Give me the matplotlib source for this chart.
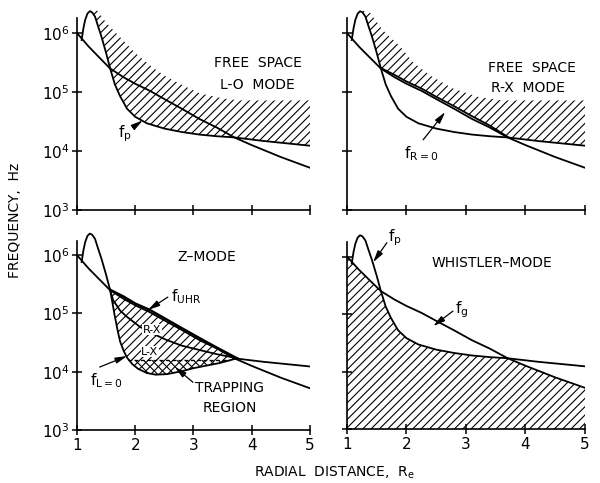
import numpy as np
import matplotlib
matplotlib.use('Agg')
import matplotlib.pyplot as plt
from matplotlib.ticker import NullLocator

plt.rcParams['hatch.linewidth'] = 0.8
plt.rcParams['mathtext.default'] = 'regular'
plt.rcParams['font.family'] = 'DejaVu Sans'

# radial distance (Re) and frequency (Hz)
R_g = [1.0, 1.2, 1.4, 1.57, 1.8, 2.0, 2.25, 2.5, 2.8, 3.1, 3.4, 3.7, 4.0, 4.5, 5.0]
f_g = [1.0e6, 5.9e5, 3.7e5, 2.5e5, 1.78e5, 1.38e5, 1.05e5, 7.6e4, 5.2e4, 3.5e4, 2.5e4, 1.7e4, 1.26e4, 7.9e3, 5.2e3]

R_p = [1.08, 1.11, 1.14, 1.18, 1.22, 1.26, 1.31, 1.36, 1.42, 1.50, 1.57, 1.65,
       1.74, 1.86, 2.0, 2.2, 2.5, 2.8, 3.1, 3.4, 3.7, 4.2, 4.6, 5.0]
f_p = [7.6e5, 1.2e6, 1.66e6, 2.14e6, 2.34e6, 2.24e6, 1.9e6, 1.32e6, 8.7e5, 4.6e5, 2.5e5, 1.35e5,
       8.5e4, 5.2e4, 3.8e4, 2.95e4, 2.4e4, 2.1e4, 1.9e4, 1.78e4, 1.7e4, 1.48e4, 1.35e4, 1.23e4]

# upper edge of the hatching in the free space panels
R_top_lo = [1.24, 1.34, 1.5, 1.74, 2.0, 2.3, 2.54, 2.89, 3.11, 3.5, 3.8, 5.0]
f_top_lo = [2.5e6, 2.45e6, 1.5e6, 8.5e5, 4.6e5, 2.6e5, 1.8e5, 1.2e5, 9.5e4, 7.8e4, 7.2e4, 7.2e4]
R_top_rx = [1.26, 1.39, 1.6, 1.89, 2.11, 2.4, 2.78, 3.2, 3.6, 5.0]
f_top_rx = [2.4e6, 2.2e6, 1.12e6, 6.0e5, 3.2e5, 1.9e5, 1.15e5, 8.3e4, 7.2e4, 7.2e4]

R_R0 = [1.57, 1.8, 2.0, 2.25, 2.5, 2.8, 3.1, 3.4, 3.7]
f_R0 = [2.55e5, 1.95e5, 1.51e5, 1.15e5, 8.3e4, 5.75e4, 3.9e4, 2.7e4, 1.74e4]

# Z-mode panel
R_uhr = [1.57, 1.8, 2.0, 2.25, 2.5, 2.8, 3.1, 3.4, 3.75]
f_uhr = [2.55e5, 1.95e5, 1.48e5, 1.15e5, 8.3e4, 5.6e4, 3.8e4, 2.6e4, 1.7e4]
R_zp = [1.57, 1.62, 1.74, 1.86, 2.08, 2.3, 2.54, 2.8, 3.11, 3.4, 3.75]
f_zp = [2.5e5, 1.7e5, 1.12e5, 8.7e4, 5.9e4, 4.5e4, 3.5e4, 2.8e4, 2.35e4, 2.0e4, 1.7e4]
R_L0 = [1.57, 1.61, 1.65, 1.70, 1.74, 1.80, 1.86, 1.95, 2.05, 2.2, 2.35, 2.55, 2.8, 3.0, 3.2, 3.45, 3.75]
f_L0 = [2.5e5, 1.5e5, 8.9e4, 5.0e4, 3.3e4, 2.3e4, 1.74e4, 1.35e4, 1.12e4, 9.5e3, 8.9e3, 9.1e3,
        1.02e4, 1.15e4, 1.26e4, 1.41e4, 1.7e4]
trap_level = 1.6e4
trap_R = [1.88, 3.62]

yticks = [1e3, 1e4, 1e5, 1e6]
xticks = [1, 2, 3, 4, 5]

R_g, f_g, R_p, f_p = map(np.array, (R_g, f_g, R_p, f_p))
R_L0, f_L0 = np.array(R_L0), np.array(f_L0)

fig = plt.figure(figsize=(6.0, 4.83), dpi=100)
ax_lo = fig.add_axes([0.1283, 0.5652, 0.3883, 0.4214])
ax_rx = fig.add_axes([0.5783, 0.5652, 0.3967, 0.4214])
ax_z = fig.add_axes([0.1283, 0.1097, 0.3883, 0.4164])
ax_w = fig.add_axes([0.5783, 0.1118, 0.3967, 0.4107])

for ax in (ax_lo, ax_rx, ax_z, ax_w):
    ax.set_yscale('log')
    ax.set_xlim(1, 5)
    ax.set_ylim(1e3, 10**6.45)
    ax.set_xticks(xticks)
    ax.set_yticks(yticks)
    ax.yaxis.set_minor_locator(NullLocator())
    ax.spines['top'].set_visible(False)
    ax.spines['right'].set_visible(False)
    ax.spines['left'].set_bounds(1e3, 10**6.25)
    for s in ('left', 'bottom'):
        ax.spines[s].set_linewidth(1.2)
    ax.tick_params(direction='inout', length=7, width=1.1, labelsize=11, pad=2)
ax_lo.tick_params(labelbottom=False)
ax_rx.tick_params(labelbottom=False, labelleft=False)
ax_w.tick_params(labelleft=False)

lw = 1.3
hatch = '////'
arr = dict(arrowstyle='-|>,head_length=0.7,head_width=0.18', color='black', lw=0.9,
           shrinkA=0, shrinkB=0)
txt = dict(fontsize=10, ha='center', va='center')

# --- free space L-O ---
ax = ax_lo
pk = R_p >= 1.22
xs = np.concatenate([R_top_lo, R_p[pk][::-1]])
ys = np.concatenate([f_top_lo, f_p[pk][::-1]])
ax.fill(xs, ys, facecolor='none', edgecolor='black', hatch=hatch, linewidth=0)
ax.plot(R_g, f_g, color='black', lw=lw)
ax.plot(R_p, f_p, color='black', lw=lw)
ax.text(4.10, 10**5.49, 'FREE  SPACE', **txt)
ax.text(4.09, 10**5.12, 'L-O  MODE', **txt)
ax.annotate('', xy=(2.13, 10**4.52), xytext=(1.96, 10**4.40), arrowprops=arr)
ax.text(1.83, 10**4.29, '$f_p$', fontsize=11, ha='center', va='center')

# --- free space R-X ---
ax = ax_rx
low_R = list(R_p[(R_p >= 1.22) & (R_p < 1.57)]) + R_R0 + list(R_p[R_p > 3.7])
low_f = list(f_p[(R_p >= 1.22) & (R_p < 1.57)]) + f_R0 + list(f_p[R_p > 3.7])
xs = np.concatenate([R_top_rx, low_R[::-1]])
ys = np.concatenate([f_top_rx, low_f[::-1]])
ax.fill(xs, ys, facecolor='none', edgecolor='black', hatch=hatch, linewidth=0)
ax.plot(R_g, f_g, color='black', lw=lw)
ax.plot(R_p, f_p, color='black', lw=lw)
ax.plot(R_R0, f_R0, color='black', lw=lw)
ax.text(4.11, 10**5.41, 'FREE  SPACE', **txt)
ax.text(4.04, 10**5.07, 'R-X  MODE', **txt)
ax.annotate('', xy=(2.65, 10**4.66), xytext=(2.28, 10**4.19), arrowprops=arr)
ax.text(2.25, 10**3.95, '$f_{R=0}$', fontsize=11, ha='center', va='center')

# --- Z mode ---
ax = ax_z
xs = np.concatenate([R_uhr, R_L0[::-1]])
ys = np.concatenate([f_uhr, f_L0[::-1]])
ax.fill(xs, ys, facecolor='none', edgecolor='black', hatch=hatch, linewidth=0)
ax.fill_between(R_L0, f_L0, trap_level, where=f_L0 <= trap_level, interpolate=True,
                facecolor='none', edgecolor='black', hatch='\\\\\\\\', linewidth=0)
ax.plot(trap_R, [trap_level, trap_level], color='black', lw=0.9, ls=(0, (3, 2)))
ax.plot(R_g, f_g, color='black', lw=lw)
ax.plot(R_p[R_p <= 1.57], f_p[R_p <= 1.57], color='black', lw=lw)
ax.plot(R_p[R_p >= 3.7], f_p[R_p >= 3.7], color='black', lw=lw)
ax.plot(R_L0, f_L0, color='black', lw=lw)
ax.plot(R_zp, f_zp, color='black', lw=lw)
ax.plot(R_uhr, f_uhr, color='black', lw=lw + 0.4)
ax.text(3.23, 10**5.97, 'Z\u2013MODE', **txt)
ax.text(2.29, 10**4.72, 'R-X', fontsize=8, ha='center', va='center',
        bbox=dict(facecolor='white', edgecolor='none', pad=0.3))
ax.text(2.25, 10**4.34, 'L-X', fontsize=8, ha='center', va='center',
        bbox=dict(facecolor='white', edgecolor='none', pad=0.3))
ax.annotate('', xy=(2.22, 10**5.06), xytext=(2.56, 10**5.28), arrowprops=arr)
ax.text(2.62, 10**5.28, '$f_{UHR}$', fontsize=11, ha='left', va='center')
ax.annotate('', xy=(1.86, 10**4.27), xytext=(1.39, 10**4.08), arrowprops=arr)
ax.text(1.50, 10**3.84, '$f_{L=0}$', fontsize=11, ha='center', va='center')
ax.annotate('', xy=(2.68, 10**4.08), xytext=(2.99, 10**3.82), arrowprops=arr)
ax.text(3.62, 10**3.72, 'TRAPPING', **txt)
ax.text(3.62, 10**3.38, 'REGION', **txt)

# --- whistler mode ---
ax = ax_w
up_R = list(R_g[R_g <= 1.57]) + list(R_p[(R_p > 1.57) & (R_p < 3.7)]) + list(R_g[R_g >= 3.7])
up_f = list(f_g[R_g <= 1.57]) + list(f_p[(R_p > 1.57) & (R_p < 3.7)]) + list(f_g[R_g >= 3.7])
xs = np.concatenate([up_R, [5.0, 1.0]])
ys = np.concatenate([up_f, [1e3, 1e3]])
ax.fill(xs, ys, facecolor='none', edgecolor='black', hatch=hatch, linewidth=0)
ax.plot(R_g, f_g, color='black', lw=lw)
ax.plot(R_p, f_p, color='black', lw=lw)
ax.text(3.44, 10**5.88, 'WHISTLER\u2013MODE', **txt)
ax.annotate('', xy=(1.44, 10**5.9), xytext=(1.67, 10**6.24), arrowprops=arr)
ax.text(1.80, 10**6.33, '$f_p$', fontsize=11, ha='center', va='center')
ax.annotate('', xy=(2.45, 10**4.79), xytext=(2.78, 10**5.05), arrowprops=arr)
ax.text(2.92, 10**5.07, '$f_g$', fontsize=11, ha='center', va='center')

fig.text(15 / 600, 1 - 220 / 483, 'FREQUENCY,  Hz', rotation=90, fontsize=10,
         ha='center', va='center')
fig.text(334 / 600, 1 - 473 / 483, 'RADIAL  DISTANCE,  R$_e$', fontsize=10,
         ha='center', va='center')

fig.savefig('out.png', dpi=100)
